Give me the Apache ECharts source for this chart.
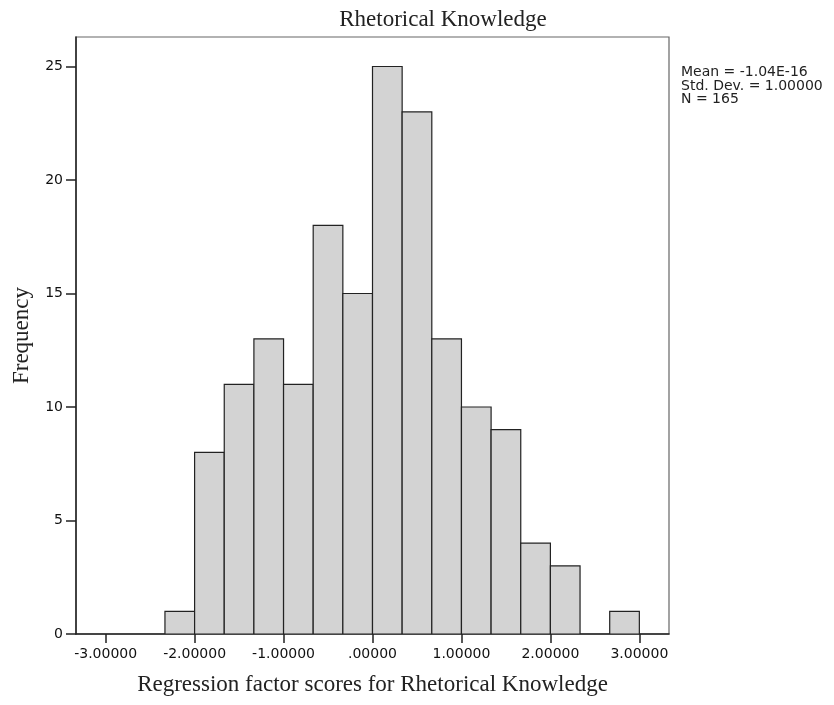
<!DOCTYPE html>
<html>
<head>
<meta charset="utf-8">
<script src="https://cdn.jsdelivr.net/npm/echarts@6/dist/echarts.min.js"></script>
<style>html,body{margin:0;padding:0;background:#fff;}#c{width:834px;height:705px;}</style>
</head>
<body>
<div id="c"></div>
<script>
var titleText = 'Rhetorical Knowledge';
var xName = 'Regression factor scores for Rhetorical Knowledge';
var yName = 'Frequency';
var statsLines = ['Mean = -1.04E-16', 'Std. Dev. = 1.00000', 'N = 165'];
var binEdges = [-2.3333, -2.0, -1.6667, -1.3333, -1.0, -0.6667, -0.3333, 0.0, 0.3333, 0.6667, 1.0, 1.3333, 1.6667, 2.0, 2.3333, 2.6667, 3.0];
var frequencies = [1, 8, 11, 13, 11, 18, 15, 25, 23, 13, 10, 9, 4, 3, 0, 1];
var xTicks = [-3, -2, -1, 0, 1, 2, 3];
var xMin = -3.3333, xMax = 3.3333;
var yMin = 0, yMax = 26.3, yInterval = 5;

var barData = [];
for (var i = 0; i < frequencies.length; i++) {
  barData.push([binEdges[i], binEdges[i + 1], frequencies[i]]);
}

var chart = echarts.init(document.getElementById('c'), null, {renderer: 'canvas'});
var labelFont = '"DejaVu Sans", sans-serif';
var serif = '"Liberation Serif", "Times New Roman", serif';

chart.setOption({
  animation: false,
  backgroundColor: '#fff',
  grid: {left: 76, right: 165, top: 37, bottom: 71, show: true, borderColor: '#666', borderWidth: 1.2, backgroundColor: 'transparent'},
  xAxis: {
    type: 'value', min: xMin, max: xMax,
    axisLine: {show: true, onZero: false, lineStyle: {color: '#222', width: 1.5}},
    axisTick: {show: true, length: 9, customValues: xTicks, lineStyle: {color: '#222', width: 1.5}},
    axisLabel: {customValues: xTicks, margin: 13, color: '#111', fontFamily: labelFont, fontSize: 14,
      formatter: function (v) { return Math.abs(v) < 1e-9 ? '.00000' : v.toFixed(5); }},
    splitLine: {show: false}
  },
  yAxis: {
    type: 'value', min: yMin, max: yMax, interval: yInterval,
    axisLine: {show: true, onZero: false, lineStyle: {color: '#222', width: 1.5}},
    axisTick: {show: true, length: 10, lineStyle: {color: '#222', width: 1.5}},
    axisLabel: {margin: 13, color: '#111', fontFamily: labelFont, fontSize: 14, showMaxLabel: false},
    splitLine: {show: false}
  },
  series: [{
    type: 'custom',
    data: barData,
    encode: {x: [0, 1], y: 2},
    clip: true,
    renderItem: function (params, api) {
      var y = api.value(2);
      if (!y) return null;
      var p0 = api.coord([api.value(0), y]);
      var p1 = api.coord([api.value(1), 0]);
      return {
        type: 'rect',
        shape: {x: p0[0], y: p0[1], width: p1[0] - p0[0], height: p1[1] - p0[1]},
        style: {fill: '#d3d3d3', stroke: '#222', lineWidth: 1.2}
      };
    }
  }],
  graphic: [
    {type: 'text', x: 443, y: 19.5, style: {text: titleText, font: '23px ' + serif, fill: '#222', align: 'center', verticalAlign: 'middle'}},
    {type: 'text', x: 372.5, y: 685, style: {text: xName, font: '23px ' + serif, fill: '#222', align: 'center', verticalAlign: 'middle'}},
    {type: 'text', x: 22, y: 335.5, rotation: Math.PI / 2, style: {text: yName, font: '23px ' + serif, fill: '#222', align: 'center', verticalAlign: 'middle'}},
    {type: 'text', x: 681, y: 66, style: {text: statsLines.join('\n'), font: '14px ' + labelFont, lineHeight: 13.3, fill: '#222', align: 'left', verticalAlign: 'top'}}
  ]
});
</script>
</body>
</html>
